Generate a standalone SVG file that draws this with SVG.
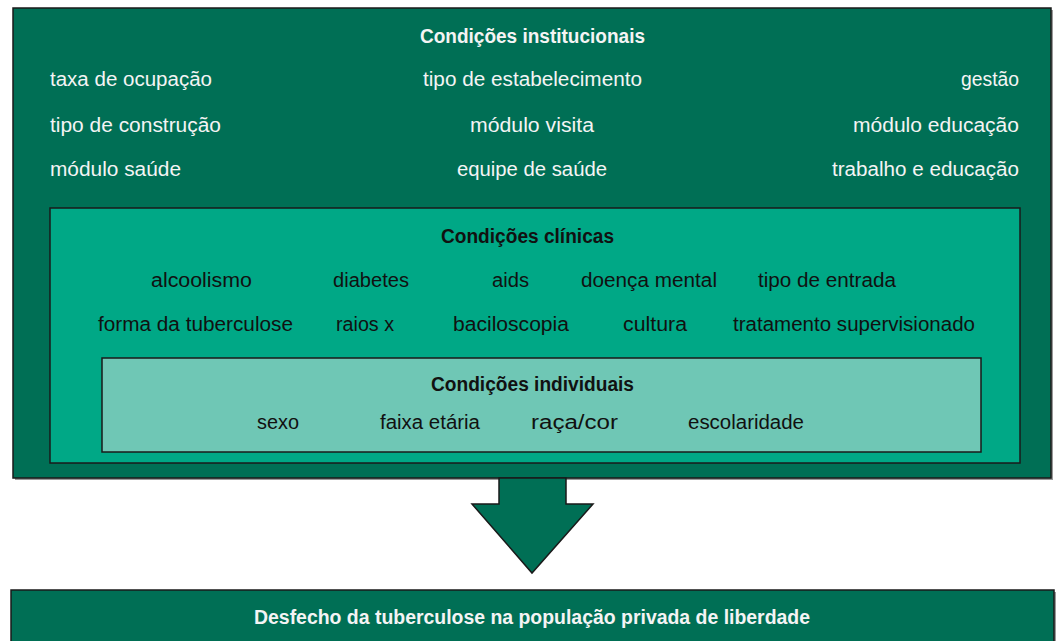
<svg xmlns="http://www.w3.org/2000/svg" width="1057" height="641" viewBox="0 0 1057 641">
<style>
.box{stroke:#1a1a1a;stroke-width:1.5}
.dark{fill:#006f55}
.mid{fill:#00a886}
.light{fill:#6fc7b5}
text{font-family:"Liberation Sans","DejaVu Sans",sans-serif;font-size:20px}
.w{fill:#f4f4f4}
.k{fill:#111}
.b{font-weight:bold}
</style>
<rect width="1057" height="641" fill="#fff"/>
<g id="institucionais">
<rect x="15" y="10" width="1038" height="470" fill="#9a9a9a"/>
<rect class="box dark" x="13" y="8" width="1038" height="470"/>
<text class="w b" x="420" y="43" textLength="225" lengthAdjust="spacingAndGlyphs">Condições institucionais</text>
<text class="w" x="50" y="86" textLength="162" lengthAdjust="spacingAndGlyphs">taxa de ocupação</text>
<text class="w" x="423" y="86" textLength="219" lengthAdjust="spacingAndGlyphs">tipo de estabelecimento</text>
<text class="w" x="961" y="86" textLength="58" lengthAdjust="spacingAndGlyphs">gestão</text>
<text class="w" x="50" y="132" textLength="171" lengthAdjust="spacingAndGlyphs">tipo de construção</text>
<text class="w" x="470" y="132" textLength="124" lengthAdjust="spacingAndGlyphs">módulo visita</text>
<text class="w" x="853" y="132" textLength="166" lengthAdjust="spacingAndGlyphs">módulo educação</text>
<text class="w" x="50" y="176" textLength="131" lengthAdjust="spacingAndGlyphs">módulo saúde</text>
<text class="w" x="457" y="176" textLength="150" lengthAdjust="spacingAndGlyphs">equipe de saúde</text>
<text class="w" x="832" y="176" textLength="187" lengthAdjust="spacingAndGlyphs">trabalho e educação</text>
</g>
<g id="clinicas">
<rect class="box mid" x="50" y="208" width="970" height="255"/>
<text class="k b" x="441" y="243" textLength="173" lengthAdjust="spacingAndGlyphs">Condições clínicas</text>
<text class="k" x="151" y="287" textLength="101" lengthAdjust="spacingAndGlyphs">alcoolismo</text>
<text class="k" x="333" y="287" textLength="76" lengthAdjust="spacingAndGlyphs">diabetes</text>
<text class="k" x="492" y="287" textLength="37" lengthAdjust="spacingAndGlyphs">aids</text>
<text class="k" x="581" y="287" textLength="136" lengthAdjust="spacingAndGlyphs">doença mental</text>
<text class="k" x="758" y="287" textLength="138" lengthAdjust="spacingAndGlyphs">tipo de entrada</text>
<text class="k" x="98" y="331" textLength="195" lengthAdjust="spacingAndGlyphs">forma da tuberculose</text>
<text class="k" x="336" y="331" textLength="58" lengthAdjust="spacingAndGlyphs">raios x</text>
<text class="k" x="453" y="331" textLength="116" lengthAdjust="spacingAndGlyphs">baciloscopia</text>
<text class="k" x="623" y="331" textLength="64" lengthAdjust="spacingAndGlyphs">cultura</text>
<text class="k" x="733" y="331" textLength="242" lengthAdjust="spacingAndGlyphs">tratamento supervisionado</text>
</g>
<g id="individuais">
<rect class="box light" x="102" y="358" width="879" height="94"/>
<text class="k b" x="431" y="391" textLength="203" lengthAdjust="spacingAndGlyphs">Condições individuais</text>
<text class="k" x="257" y="429" textLength="42" lengthAdjust="spacingAndGlyphs">sexo</text>
<text class="k" x="380" y="429" textLength="100" lengthAdjust="spacingAndGlyphs">faixa etária</text>
<text class="k" x="531" y="429" textLength="87" lengthAdjust="spacingAndGlyphs">raça/cor</text>
<text class="k" x="688" y="429" textLength="116" lengthAdjust="spacingAndGlyphs">escolaridade</text>
</g>
<g id="connectors">
<polygon class="box dark" points="499,478 566,478 566,504 593,504 532,573 472,504 499,504"/>
</g>
<g id="desfecho">
<rect x="13" y="592" width="1043" height="60" fill="#9a9a9a"/>
<rect class="box dark" x="11" y="590" width="1043" height="60"/>
<text class="w b" x="254" y="624" textLength="556" lengthAdjust="spacingAndGlyphs">Desfecho da tuberculose na população privada de liberdade</text>
</g>
</svg>
